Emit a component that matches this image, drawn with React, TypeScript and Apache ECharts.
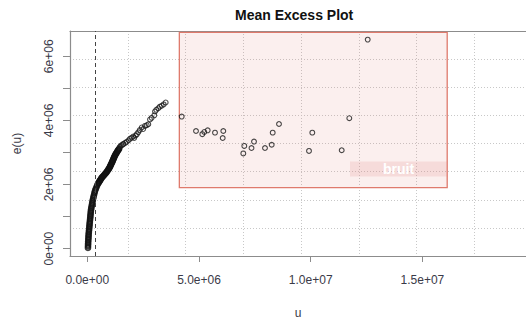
import { useEffect, useRef } from "react";
import * as echarts from "echarts";

// Dense part of the mean excess curve (threshold u, mean excess e(u))
const denseU = [
  0.03e6, 0.032e6, 0.034e6, 0.037e6, 0.04e6, 0.045e6, 0.05e6, 0.054e6, 0.058e6, 0.064e6,
  0.07e6, 0.077e6, 0.084e6, 0.09e6, 0.097e6, 0.104e6, 0.111e6, 0.118e6, 0.125e6, 0.132e6,
  0.139e6, 0.146e6, 0.153e6, 0.16e6, 0.168e6, 0.181e6, 0.194e6, 0.207e6, 0.22e6, 0.233e6,
  0.247e6, 0.264e6, 0.281e6, 0.298e6, 0.316e6, 0.333e6, 0.355e6, 0.383e6, 0.412e6, 0.441e6,
  0.474e6, 0.497e6, 0.518e6, 0.541e6, 0.563e6, 0.585e6, 0.607e6, 0.632e6, 0.655e6, 0.688e6,
  0.719e6, 0.752e6, 0.783e6, 0.815e6, 0.845e6, 0.87e6, 0.893e6, 0.92e6, 0.943e6, 0.968e6,
  0.99e6, 1.008e6, 1.024e6, 1.042e6, 1.058e6, 1.076e6, 1.092e6, 1.11e6, 1.125e6, 1.14e6,
  1.155e6, 1.17e6, 1.185e6, 1.2e6, 1.215e6, 1.232e6, 1.25e6, 1.27e6, 1.292e6, 1.314e6,
  1.335e6, 1.357e6, 1.378e6, 1.405e6, 1.43e6,
];
const denseE = [
  0.02e6, 0.07e6, 0.12e6, 0.17e6, 0.22e6, 0.27e6, 0.32e6, 0.37e6, 0.42e6, 0.47e6,
  0.52e6, 0.57e6, 0.62e6, 0.67e6, 0.72e6, 0.77e6, 0.82e6, 0.87e6, 0.92e6, 0.97e6,
  1.02e6, 1.07e6, 1.12e6, 1.17e6, 1.22e6, 1.27e6, 1.32e6, 1.37e6, 1.42e6, 1.47e6,
  1.52e6, 1.57e6, 1.62e6, 1.67e6, 1.72e6, 1.77e6, 1.82e6, 1.87e6, 1.92e6, 1.97e6,
  2.02e6, 2.045e6, 2.07e6, 2.095e6, 2.12e6, 2.145e6, 2.17e6, 2.195e6, 2.22e6, 2.245e6,
  2.27e6, 2.295e6, 2.32e6, 2.345e6, 2.37e6, 2.395e6, 2.42e6, 2.445e6, 2.47e6, 2.495e6,
  2.52e6, 2.545e6, 2.57e6, 2.595e6, 2.62e6, 2.645e6, 2.67e6, 2.695e6, 2.72e6, 2.745e6,
  2.77e6, 2.795e6, 2.82e6, 2.845e6, 2.87e6, 2.895e6, 2.92e6, 2.945e6, 2.97e6, 2.995e6,
  3.02e6, 3.045e6, 3.07e6, 3.095e6, 3.12e6,
];

// Sparser upper part of the curve
const upperU = [
  1.45e6, 1.49e6, 1.54e6, 1.6e6, 1.62e6, 1.7e6, 1.764e6, 1.85e6, 1.911e6, 1.98e6,
  2.059e6, 2.1e6, 2.167e6, 2.22e6, 2.283e6, 2.35e6, 2.435e6, 2.5e6, 2.583e6, 2.66e6,
  2.731e6, 2.807e6, 2.88e6, 2.999e6, 3.03e6, 3.09e6, 3.178e6, 3.25e6, 3.33e6, 3.42e6,
  3.509e6,
];
const upperE = [
  3.17e6, 3.2e6, 3.228e6, 3.25e6, 3.27e6, 3.3e6, 3.33e6, 3.38e6, 3.429e6, 3.46e6,
  3.498e6, 3.45e6, 3.528e6, 3.57e6, 3.63e6, 3.7e6, 3.78e6, 3.73e6, 3.828e6, 3.85e6,
  3.879e6, 4.029e6, 4.08e6, 4.158e6, 4.278e6, 4.33e6, 4.38e6, 4.43e6, 4.458e6, 4.5e6,
  4.56e6,
];

// Points inside the "bruit" (noise) box
const noiseU = [
  4.226e6, 4.866e6, 5.148e6, 5.237e6, 5.389e6, 5.716e6, 6.088e6, 6.061e6, 6.983e6, 7.028e6,
  7.35e6, 7.462e6, 7.954e6, 8.254e6, 8.299e6, 8.581e6, 9.924e6, 10.072e6, 11.388e6, 11.728e6,
  12.552e6,
];
const noiseE = [
  4.119e6, 3.669e6, 3.57e6, 3.639e6, 3.69e6, 3.618e6, 3.669e6, 3.45e6, 2.97e6, 3.204e6,
  3.138e6, 3.339e6, 3.138e6, 3.24e6, 3.618e6, 3.888e6, 3.048e6, 3.618e6, 3.069e6, 4.068e6,
  6.52e6,
];

const thresholdU = 0.37e6;
const noiseBoxU = [4.12e6, 16.11e6];
const noiseBoxE = [1.9e6, 6.745e6];
const noiseLabelU = [11.76e6, 16.11e6];
const noiseLabelE = [2.25e6, 2.718e6];
const noiseLabel = "bruit";

const xTickValues = [0, 5e6, 10e6, 15e6];
const yTickValues = [0, 1e6, 2e6, 3e6, 4e6, 5e6, 6e6];
const yLabelValues = [0, 2e6, 4e6, 6e6];

const titleText = "Mean Excess Plot";
const xName = "u";
const yName = "e(u)";

function sci(v: number, digits: number): string {
  if (v === 0) return (0).toFixed(digits) + "e+00";
  const exp = Math.floor(Math.log10(Math.abs(v)) + 1e-9);
  const mant = v / Math.pow(10, exp);
  const e = Math.abs(exp);
  return mant.toFixed(digits) + "e" + (exp < 0 ? "-" : "+") + (e < 10 ? "0" + e : String(e));
}

export default function App() {
  const ref = useRef<HTMLDivElement>(null);
  useEffect(() => {
    if (!ref.current) return;
    const chart = echarts.init(ref.current, undefined, { renderer: "svg" });
    const densePts: number[][] = denseU.map((u, i) => [u, denseE[i]]);
    const pts: number[][] = [];
    upperU.forEach((u, i) => pts.push([u, upperE[i]]));
    noiseU.forEach((u, i) => pts.push([u, noiseE[i]]));

    const axisColor = "#8c8c8c";
    const textColor = "#3a3a48";
    const font = "Liberation Sans, Arial, sans-serif";
    const gridLine = { show: true, lineStyle: { color: "#c8c8c8", type: [1, 2], width: 1 } };

    chart.setOption({
      animation: false,
      backgroundColor: "#ffffff",
      title: {
        text: titleText,
        left: 235,
        top: 8,
        padding: 0,
        textStyle: { fontSize: 14, fontWeight: "bold", color: "#111", fontFamily: font },
      },
      grid: { left: 70, top: 31, right: 0, height: 234 },
      xAxis: [
        {
          type: "value",
          min: -774400,
          max: 19637400,
          position: "bottom",
          name: xName,
          nameLocation: "middle",
          nameGap: 51,
          nameTextStyle: { fontSize: 12, color: textColor, fontFamily: font },
          axisLine: { show: true, onZero: false, lineStyle: { color: axisColor, width: 1.2 } },
          axisTick: { show: true, length: 6, customValues: xTickValues, lineStyle: { color: axisColor } },
          axisLabel: {
            customValues: xTickValues,
            formatter: (v: number) => sci(v, 1),
            fontSize: 12,
            margin: 18,
            color: textColor,
            fontFamily: font,
          },
          splitLine: { show: false },
        },
        {
          type: "value",
          min: 0,
          max: 7.896,
          interval: 1,
          position: "top",
          axisLine: { show: true, onZero: false, lineStyle: { color: axisColor, width: 1.2 } },
          axisTick: { show: false },
          axisLabel: { show: false },
          splitLine: gridLine,
        },
      ],
      yAxis: [
        {
          type: "value",
          min: -231000,
          max: 6789000,
          position: "left",
          name: yName,
          nameLocation: "middle",
          nameGap: 47,
          nameTextStyle: { fontSize: 12, color: textColor, fontFamily: font },
          axisLine: { show: true, onZero: false, lineStyle: { color: axisColor, width: 1.2 } },
          axisTick: { show: true, length: 7, customValues: yTickValues, lineStyle: { color: axisColor } },
          axisLabel: {
            customValues: yLabelValues,
            rotate: 90,
            formatter: (v: number) => sci(v, 0),
            fontSize: 12,
            margin: 15,
            color: textColor,
            fontFamily: font,
          },
          splitLine: { show: false },
        },
        {
          type: "value",
          min: 0,
          max: 8,
          interval: 1,
          position: "right",
          axisLine: { show: false, onZero: false },
          axisTick: { show: false },
          axisLabel: { show: false },
          splitLine: gridLine,
        },
      ],
      series: [
        {
          type: "scatter",
          xAxisIndex: 0,
          yAxisIndex: 0,
          data: densePts,
          symbol: "circle",
          symbolSize: 5,
          itemStyle: { color: "rgba(0,0,0,0)", borderColor: "#111", borderWidth: 1.7 },
        },
        {
          type: "scatter",
          xAxisIndex: 0,
          yAxisIndex: 0,
          data: pts,
          symbol: "circle",
          symbolSize: 4.8,
          itemStyle: { color: "rgba(0,0,0,0)", borderColor: "#1a1a1a", borderWidth: 1.1 },
          markLine: {
            silent: true,
            symbol: "none",
            label: { show: false },
            lineStyle: { color: "#444", type: [4, 3], width: 1 },
            data: [{ xAxis: thresholdU }],
          },
          markArea: {
            silent: true,
            data: [
              [
                {
                  coord: [noiseBoxU[0], noiseBoxE[1]],
                  itemStyle: {
                    color: "rgba(222,110,100,0.11)",
                    borderColor: "#df7a6c",
                    borderWidth: 1.3,
                  },
                  label: { show: false },
                },
                { coord: [noiseBoxU[1], noiseBoxE[0]] },
              ],
              [
                {
                  coord: [noiseLabelU[0], noiseLabelE[1]],
                  itemStyle: { color: "rgba(230,140,140,0.2)", borderWidth: 0 },
                  label: {
                    show: true,
                    position: "inside",
                    formatter: noiseLabel,
                    color: "#ffffff",
                    fontSize: 14,
                    fontWeight: "bold",
                    fontFamily: font,
                  },
                },
                { coord: [noiseLabelU[1], noiseLabelE[0]] },
              ],
            ],
          },
        },
      ],
    });
    return () => chart.dispose();
  }, []);
  return (
    <div
      ref={ref}
      style={{ position: "fixed", left: 0, top: 0, width: 526, height: 324 }}
    />
  );
}
